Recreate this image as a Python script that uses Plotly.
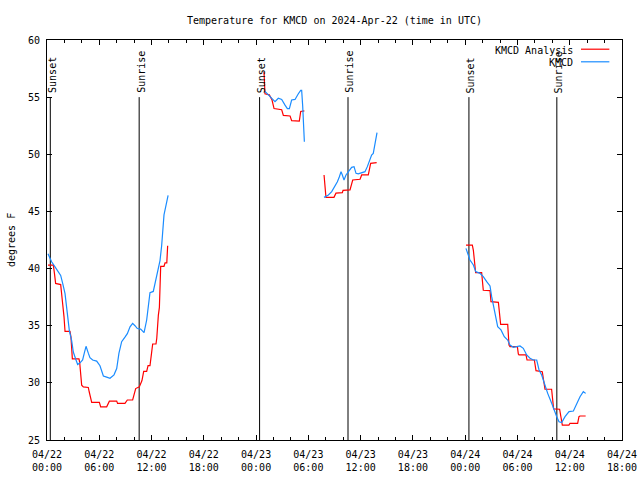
import pandas as pd
import plotly.graph_objects as go

BASE = pd.Timestamp("2024-04-22 00:00")

# ---- data: hours after 2024-04-22 00:00 UTC, temperature in degrees F ----
analysis_seg1_h = [0.11, 0.73, 0.85, 0.99, 1.57, 1.65, 1.80, 1.95, 2.07, 2.64, 2.75, 2.91, 3.67, 3.75, 3.98,
                   4.17, 4.74, 4.85, 5.13, 6.01, 6.16, 6.85, 7.16, 8.0, 8.1, 8.95, 9.22, 9.83, 10.18, 10.6,
                   10.9, 11.1, 11.44, 11.6, 11.82, 12.0, 12.13, 12.51, 12.6, 12.78, 12.9, 13.05, 13.43,
                   13.55, 13.75, 13.85]
analysis_seg1_t = [40.3, 40.3, 39.6, 38.7, 38.6, 37.8, 36.9, 35.8, 34.5, 34.5, 34.0, 32.1, 32.1, 31.8, 29.8,
                   29.65, 29.6, 29.2, 28.3, 28.3, 27.9, 27.9, 28.4, 28.4, 28.2, 28.2, 28.5, 28.5, 29.5, 29.65,
                   30.2, 31.0, 31.0, 31.5, 31.5, 32.6, 33.4, 33.4, 33.9, 35.9, 36.6, 40.2, 40.2,
                   40.5, 40.5, 42.0]
analysis_seg2_h = [24.91, 25.02, 25.52, 25.83, 26.06, 26.94, 27.13, 27.9, 28.08, 28.96, 29.12, 29.54]
analysis_seg2_t = [57.2, 55.3, 55.2, 54.75, 54.0, 53.9, 53.4, 53.35, 52.95, 52.9, 53.75, 53.8]
analysis_seg3_h = [31.8, 32.02, 32.94, 33.17, 33.9, 33.98, 34.78, 35.09, 35.93, 36.12, 36.88, 37.15, 37.84]
analysis_seg3_t = [48.19, 46.23, 46.23, 46.6, 46.64, 46.85, 46.88, 47.75, 47.81, 48.19, 48.19, 49.21, 49.27]
analysis_seg4_h = [48.09, 48.82, 48.94, 49.05, 49.13, 49.2, 49.89, 50.0, 50.08, 50.85, 50.96, 51.81, 51.92,
                   52.07, 52.88, 53.03, 53.14, 53.99, 54.1, 54.18, 54.98, 55.1, 55.94, 56.05, 56.13, 56.85,
                   57.01, 57.16, 57.92, 58.0, 58.15, 58.84, 58.99, 59.15, 59.91, 60.03, 60.91, 61.06, 61.18,
                   61.83]
analysis_seg4_t = [42.06, 42.06, 41.6, 40.75, 39.87, 39.64, 39.64, 38.7, 38.1, 38.07, 37.1, 37.05, 36.1,
                   35.12, 35.12, 33.3, 33.17, 33.17, 32.53, 32.44, 32.44, 32.0, 32.0, 31.5, 31.07, 30.98,
                   30.25, 29.44, 29.44, 28.5, 27.72, 27.69, 26.9, 26.31, 26.31, 26.46, 26.46, 27.04, 27.1,
                   27.1]

obs_seg1_h = [0.11, 0.53, 0.92, 1.30, 1.57, 1.80, 2.07, 2.33, 2.56, 2.83, 3.02, 3.33, 3.52, 3.79, 4.09, 4.28,
              4.48, 4.74, 4.93, 5.24, 5.70, 6.08, 6.47, 6.85, 7.23, 7.69, 8.0, 8.26, 8.57, 8.95, 9.22, 9.53,
              9.83, 10.1, 10.37, 10.75, 11.14, 11.44, 11.82, 12.2, 12.4, 12.66, 12.97, 13.16, 13.43, 13.9]
obs_seg1_t = [41.3, 40.6, 40.15, 39.7, 39.4, 38.7, 37.8, 36.1, 34.6, 33.7, 32.7, 32.0, 31.6, 31.75, 32.0, 32.6,
              33.2, 32.6, 32.2, 32.0, 31.9, 31.5, 30.6, 30.5, 30.4, 30.7, 31.25, 32.6, 33.6, 34.0, 34.3, 34.9,
              35.2, 35.0, 34.75, 34.7, 34.4, 35.5, 37.9, 38.0, 38.7, 39.85, 40.7, 42.0, 44.7, 46.4]
obs_seg2_h = [25.02, 25.4, 25.79, 26.17, 26.55, 26.94, 27.32, 27.59, 27.82, 28.08, 28.47, 28.66, 28.85, 29.12,
              29.23, 29.35, 29.42, 29.54]
obs_seg2_t = [55.5, 55.2, 54.9, 54.6, 54.9, 54.8, 54.3, 54.0, 54.0, 54.75, 54.8, 55.0, 55.3, 55.6,
              55.6, 54.2, 52.4, 51.1]
obs_seg3_h = [31.8, 32.3, 32.68, 33.06, 33.33, 33.56, 33.75, 33.9, 34.09, 34.32, 34.59, 34.78, 34.97, 35.24,
              35.47, 35.73, 36.12, 36.5, 36.77, 37.0, 37.26, 37.45, 37.57, 37.76, 37.88]
obs_seg3_t = [46.23, 46.44, 46.73, 47.17, 47.6, 48.04, 48.48, 48.19, 47.75, 48.19, 48.48, 48.68, 48.86, 48.92,
              48.33, 48.28, 48.39, 48.48, 48.92, 49.5, 49.94, 50.08, 50.67, 51.25, 51.9]
obs_seg4_h = [48.09, 48.36, 48.55, 48.94, 49.21, 49.7, 50.08, 50.47, 50.85, 51.04, 51.23, 51.42, 51.73, 52.11,
              52.49, 52.88, 53.14, 53.53, 53.91, 54.29, 54.67, 55.06, 55.44, 55.82, 56.21, 56.48, 56.78,
              57.09, 57.47, 57.93, 58.24, 58.51, 58.77, 59.08, 59.46, 59.92, 60.42, 60.8, 61.18, 61.56, 61.83]
obs_seg4_t = [41.77, 41.19, 40.75, 40.31, 39.73, 39.58, 39.29, 38.85, 38.48, 37.54, 36.81, 35.94, 34.92, 34.63,
              34.04, 33.75, 33.31, 33.11, 33.17, 33.23, 33.02, 32.44, 32.15, 32.0, 32.0, 31.13, 30.69,
              29.96, 29.08, 28.21, 27.48, 27.04, 26.6, 26.52, 27.04, 27.48, 27.54, 28.21, 28.79, 29.23, 29.08]

event_hours = [0.38, 10.58, 24.40, 34.55, 48.43, 58.52]
event_labels = ["Sunset", "Sunrise", "Sunset", "Sunrise", "Sunset", "Sunrise"]

series_names = ["KMCD Analysis", "KMCD"]
series_colors = ["#ff0000", "#1a8cff"]

Y_MIN, Y_MAX = 25, 60
EVENT_TOP = 55
X_START = "2024-04-22 00:00"
X_END = "2024-04-24 18:00"


def to_time(h):
    return (BASE + pd.Timedelta(hours=h)).strftime("%Y-%m-%d %H:%M:%S")


def join_segments(segs):
    xs, ys = [], []
    for hs, ts in segs:
        if xs:
            xs.append(None)
            ys.append(None)
        xs.extend(to_time(h) for h in hs)
        ys.extend(ts)
    return xs, ys


analysis_x, analysis_y = join_segments([(analysis_seg1_h, analysis_seg1_t), (analysis_seg2_h, analysis_seg2_t),
                                        (analysis_seg3_h, analysis_seg3_t), (analysis_seg4_h, analysis_seg4_t)])
obs_x, obs_y = join_segments([(obs_seg1_h, obs_seg1_t), (obs_seg2_h, obs_seg2_t),
                              (obs_seg3_h, obs_seg3_t), (obs_seg4_h, obs_seg4_t)])

FONT = "DejaVu Sans Mono"

fig = go.Figure()

# sunrise / sunset lines
for h, lab in zip(event_hours, event_labels):
    t = to_time(h)
    fig.add_trace(go.Scatter(x=[t, t], y=[Y_MIN, EVENT_TOP], mode="lines",
                             line=dict(color="black", width=1), showlegend=False, hoverinfo="skip"))
    fig.add_annotation(x=t, y=EVENT_TOP, xref="x", yref="y", text=lab, textangle=-90,
                       showarrow=False, xanchor="center", yanchor="bottom", xshift=1.5, yshift=2,
                       font=dict(family=FONT, size=10, color="black"))

fig.add_trace(go.Scatter(x=analysis_x, y=analysis_y, mode="lines", name=series_names[0],
                         line=dict(color=series_colors[0], width=1.2), connectgaps=False))
fig.add_trace(go.Scatter(x=obs_x, y=obs_y, mode="lines", name=series_names[1],
                         line=dict(color=series_colors[1], width=1.2), connectgaps=False))

# manual gnuplot-style key (text right-aligned, sample on the right)
key_rows = [0.975, 0.9435]
for name, col, ky in zip(series_names, series_colors, key_rows):
    fig.add_annotation(x=0.918, y=ky, xref="paper", yref="paper", text=name, showarrow=False,
                       xanchor="right", yanchor="middle", font=dict(family=FONT, size=10, color="black"))
    fig.add_shape(type="line", xref="paper", yref="paper", x0=0.9287, x1=0.978, y0=ky + 0.002, y1=ky + 0.002,
                  line=dict(color=col, width=1.2))

# y-axis title
fig.add_annotation(x=-0.0626, y=0.5, xref="paper", yref="paper", text="degrees F", textangle=-90,
                   showarrow=False, xanchor="center", yanchor="middle",
                   font=dict(family=FONT, size=10, color="black"))

fig.update_layout(
    width=640, height=480,
    margin=dict(l=47, r=18, t=40, b=40, autoexpand=False),
    paper_bgcolor="white", plot_bgcolor="white",
    showlegend=False,
    font=dict(family=FONT, size=10, color="black"),
    title=dict(text="Temperature for KMCD on 2024-Apr-22 (time in UTC)", x=0.5, xref="paper",
               xanchor="center", y=1 - 20 / 480, yanchor="middle",
               font=dict(family=FONT, size=10, color="black")),
    xaxis=dict(type="date", range=[X_START, X_END], tick0=X_START, dtick=6 * 3600 * 1000,
               tickformat="%m/%d<br>%H:%M", ticks="inside", ticklen=5, tickcolor="black",
               showline=True, linecolor="black", linewidth=1, mirror="allticks",
               showgrid=False, zeroline=False, automargin=False, ticklabelstandoff=5,
               minor=dict(dtick=2 * 3600 * 1000, ticks="inside", ticklen=3, tickcolor="black",
                          showgrid=False),
               tickfont=dict(family=FONT, size=10, color="black")),
    yaxis=dict(range=[Y_MIN, Y_MAX], dtick=5, tick0=0, ticks="inside", ticklen=5, tickcolor="black",
               showline=True, linecolor="black", linewidth=1, mirror="allticks",
               showgrid=False, zeroline=False, automargin=False, ticklabelstandoff=4,
               tickfont=dict(family=FONT, size=10, color="black")),
)

fig.write_html("out.html", config={"displayModeBar": False},
               post_script="document.body.style.margin='0';document.body.style.padding='0';")
